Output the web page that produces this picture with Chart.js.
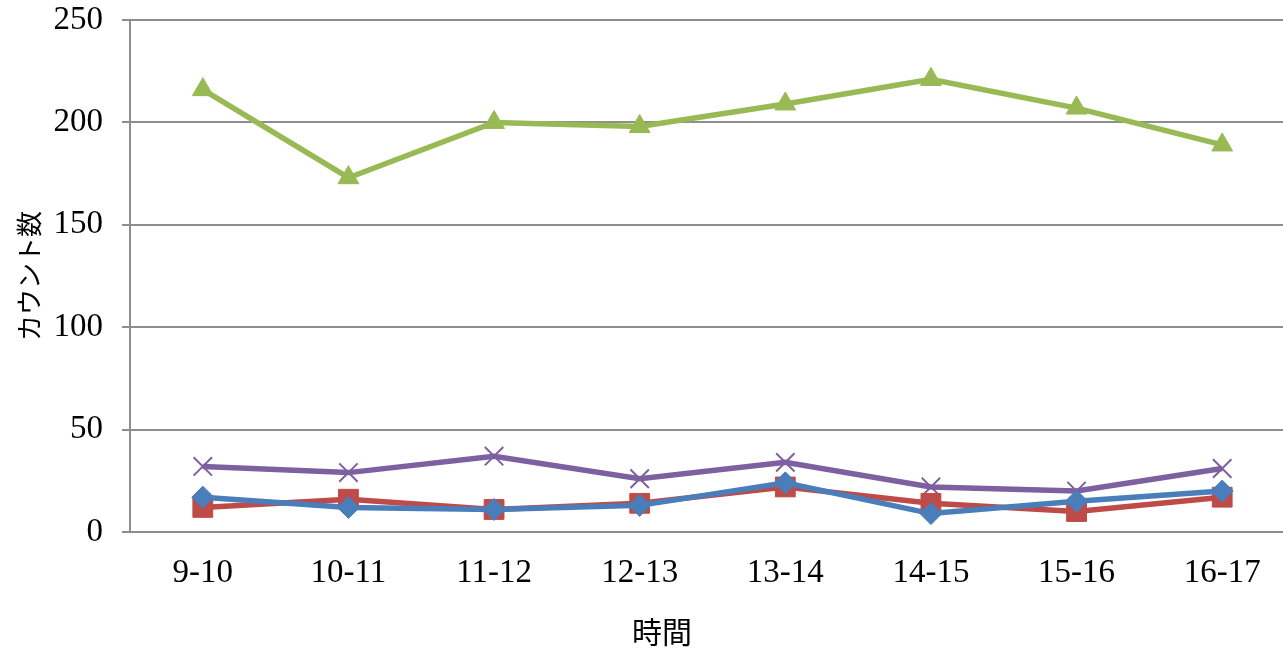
<!DOCTYPE html>
<html>
<head>
<meta charset="utf-8">
<script src="https://cdn.jsdelivr.net/npm/chart.js@4.4.0/dist/chart.umd.min.js"></script>
<style>
  html, body { margin: 0; padding: 0; overflow: hidden; background: #fff; }
  #graph-box { display: block; }
</style>
</head>
<body>
<canvas id="graph-box" width="1310" height="652"></canvas>
<script>
const labels = ['9-10', '10-11', '11-12', '12-13', '13-14', '14-15', '15-16', '16-17'];
const blueVals = [17, 12, 11, 13, 24, 9, 15, 20];
const redVals = [12, 16, 11, 14, 22, 14, 10, 17];
const greenVals = [216, 173, 200, 198, 209, 221, 207, 189];
const purpleVals = [32, 29, 37, 26, 34, 22, 20, 31];
const yTicks = [0, 50, 100, 150, 200, 250];

const gridGray = '#8e8e8e';
const serif = '"Liberation Serif", "Times New Roman", serif';
const ctx = document.getElementById('graph-box');

// x axis title, centred on the whole chart like the original (not on the plot)
const xTitle = {
    id: 'xTitle',
    afterDraw(chart) {
        const c = chart.ctx;
        c.save();
        c.fillStyle = '#000';
        c.font = '30px "Noto Sans CJK JP", sans-serif';
        c.textAlign = 'center';
        c.textBaseline = 'middle';
        c.fillText('時間', 662, 632);
        c.restore();
    }
};

const myChart = new Chart(ctx, {
    type: 'line',
    data: {
        labels: labels,
        datasets: [
        {
            label: 'blue',
            data: blueVals,
            borderColor: '#4a7ebb',
            backgroundColor: '#4a7ebb',
            borderWidth: 5.5,
            pointStyle: 'rectRot',
            pointRadius: 11,
            pointBorderWidth: 1
        },
        {
            label: 'red',
            data: redVals,
            borderColor: '#be4b48',
            backgroundColor: '#be4b48',
            borderWidth: 5.5,
            pointStyle: 'rect',
            pointRadius: 14,
            pointBorderWidth: 1
        },
        {
            label: 'purple',
            data: purpleVals,
            borderColor: '#7d60a0',
            backgroundColor: '#7d60a0',
            borderWidth: 5.5,
            pointStyle: 'crossRot',
            pointRadius: 13,
            pointBorderWidth: 2
        },
        {
            label: 'green',
            data: greenVals,
            borderColor: '#98b954',
            backgroundColor: '#98b954',
            borderWidth: 5.5,
            pointStyle: 'triangle',
            pointRadius: 12,
            pointBorderWidth: 1
        }]
    },
    plugins: [xTitle],
    options: {
        responsive: false,
        devicePixelRatio: 1,
        animation: false,
        layout: { padding: { top: 20, right: 0, left: 0, bottom: 0 } },
        plugins: {
            legend: { display: false },
            tooltip: { enabled: false }
        },
        scales: {
            x: {
                offset: true,
                grid: { display: false },
                border: { color: gridGray, width: 2 },
                ticks: {
                    color: '#000',
                    padding: 14,
                    font: { family: serif, size: 33 }
                },
                afterFit: s => { s.height = 120; }
            },
            y: {
                min: 0,
                max: 250,
                afterBuildTicks: s => { s.ticks = yTicks.map(v => ({ value: v })); },
                grid: {
                    color: gridGray,
                    lineWidth: 2,
                    tickLength: 8
                },
                border: { color: gridGray, width: 2 },
                ticks: {
                    color: '#000',
                    padding: 19,
                    font: { family: serif, size: 33 }
                },
                title: {
                    display: true,
                    text: 'カウント数',
                    color: '#000',
                    font: { family: '"Noto Sans CJK JP", sans-serif', size: 26, lineHeight: 1.9 }
                },
                afterFit: s => {
                    s.width = 130;
                    s.paddingTop = 0;
                    s.paddingBottom = 0;
                }
            }
        }
    }
});
</script>
</body>
</html>
